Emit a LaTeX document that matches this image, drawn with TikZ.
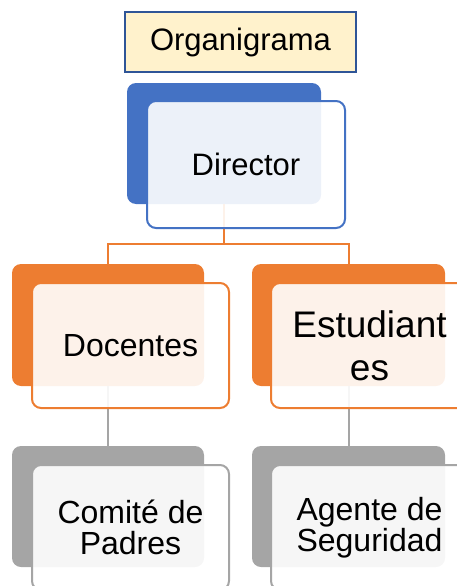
\documentclass[tikz,border=0pt]{standalone}
\usepackage{fontspec}
\setmainfont{Liberation Sans}
\definecolor{dblue}{HTML}{4472C4}
\definecolor{tblue}{HTML}{2F5597}
\definecolor{ttfill}{HTML}{FFF2CC}
\definecolor{dorange}{HTML}{ED7D31}
\definecolor{dgray}{HTML}{A5A5A5}
\tikzset{
  backbox/.style={fill=#1, draw=none, rounded corners=9pt, inner sep=0pt},
  frontbox/.style={draw=#1, line width=2pt, fill=white, fill opacity=0.9, text opacity=1,
    rounded corners=9pt, inner sep=0pt, align=center, minimum width=197pt, minimum height=125pt},
  conn/.style={draw=#1, line width=2pt},
  txt/.style={font=\fontsize{32}{31}\selectfont}
}
\begin{document}
\begin{tikzpicture}[x=1pt,y=-1pt]
\useasboundingbox (0,0) rectangle (456,586);
% title
\node[draw=tblue, fill=ttfill, line width=2pt, minimum width=231pt, minimum height=60pt, inner sep=0pt,
  font=\fontsize{31}{37}\selectfont] (title) at (240.5,42) {Organigrama};
% back boxes
\node[backbox=dblue, minimum width=194pt, minimum height=121pt] (dirB) at (224,143.5) {};
\node[backbox=dorange, minimum width=192pt, minimum height=122pt] (docB) at (108,325) {};
\node[backbox=dorange, minimum width=193pt, minimum height=122pt] (estB) at (348.5,325) {};
\node[backbox=dgray, minimum width=192pt, minimum height=121pt] (comB) at (108,506.5) {};
\node[backbox=dgray, minimum width=193pt, minimum height=121pt] (ageB) at (348.5,506.5) {};
% connectors
\coordinate (jn) at (224,244);
\draw[conn=dorange] (dirB.south) -- (jn) -| (docB.north);
\draw[conn=dorange] (jn) -| (estB.north);
\draw[conn=dgray] (docB.south) -- (comB.north);
\draw[conn=dgray] (estB.south) -- (ageB.north);
% front boxes
\node[frontbox=dblue, minimum width=198pt, minimum height=127pt, font=\fontsize{31}{37}\selectfont] (dir) at (246,164.5) {Director};
\node[frontbox=dorange, txt] (doc) at (130.5,345.5) {Docentes};
\node[frontbox=dorange, font=\fontsize{37}{43}\selectfont] (est) at (369.5,345.5) {Estudiant\\es};
\node[frontbox=dgray, txt] (com) at (130.5,527.5) {Comité de\\Padres};
\node[frontbox=dgray, txt] (age) at (369.5,527.5) {Agente de\\Seguridad};
\end{tikzpicture}
\end{document}
